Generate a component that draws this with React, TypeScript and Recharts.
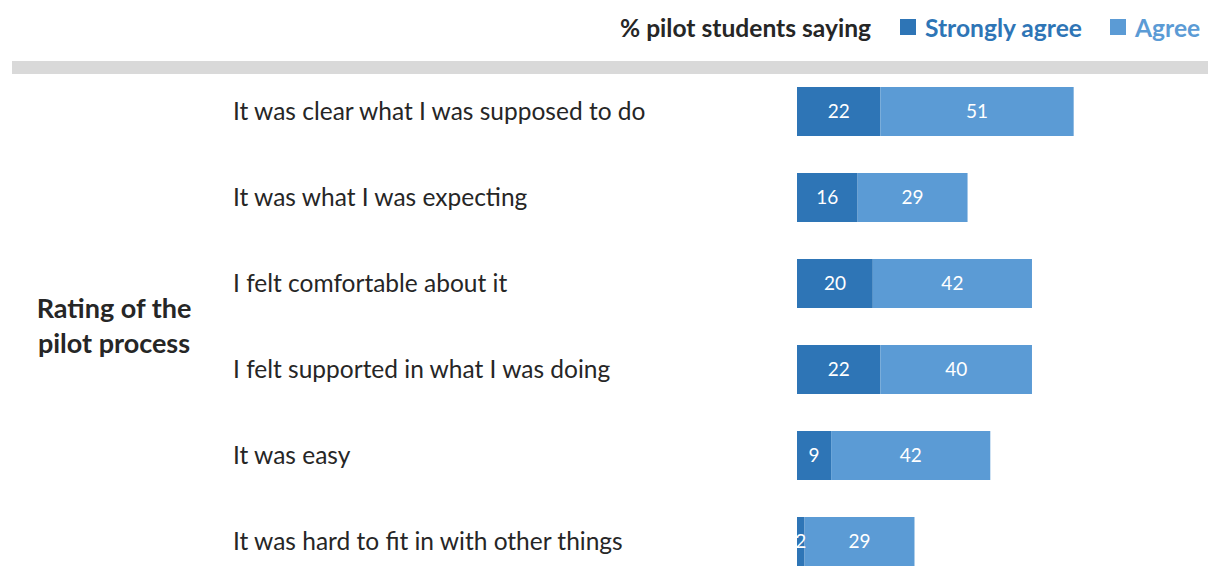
import React from "react";
import { BarChart, Bar, XAxis, YAxis, LabelList } from "recharts";

const statements = [
  "It was clear what I was supposed to do",
  "It was what I was expecting",
  "I felt comfortable about it",
  "I felt supported in what I was doing",
  "It was easy",
  "It was hard to fit in with other things",
];
const stronglyAgree = [22, 16, 20, 22, 9, 2];
const agree = [51, 29, 42, 40, 42, 29];

const data = statements.map((s, i) => ({
  statement: s,
  strongly: stronglyAgree[i],
  agree: agree[i],
}));

const DARK = "#2E75B6";
const LIGHT = "#5B9BD5";
const TEXT = "#262626";
const FONT = "Lato, 'Open Sans', sans-serif";

const StatementTick = (props: any) => {
  const { y, payload } = props;
  return (
    <text x={233} y={y} dy="0.36em" textAnchor="start" fill={TEXT} fontSize={24.5} fontFamily={FONT}>
      {payload.value}
    </text>
  );
};

const App = () => {
  return (
    <div style={{ position: "absolute", left: 0, top: 0, width: 1208, height: 576, overflow: "hidden", background: "#fff" }}>
      <svg width={1208} height={100} style={{ position: "absolute", left: 0, top: 0 }}>
        <text x={620} y={37} fill={TEXT} fontSize={24.6} fontWeight="bold" fontFamily={FONT}>
          % pilot students saying
        </text>
        <rect x={900} y={19} width={16} height={16} fill={DARK} />
        <text x={925} y={37} fill={DARK} fontSize={24.6} fontWeight="bold" fontFamily={FONT}>
          Strongly agree
        </text>
        <rect x={1110} y={19} width={16} height={16} fill={LIGHT} />
        <text x={1135} y={37} fill={LIGHT} fontSize={24.6} fontWeight="bold" fontFamily={FONT}>
          Agree
        </text>
        <rect x={12} y={61} width={1196} height={13} fill="#D9D9D9" />
      </svg>
      <div style={{ position: "absolute", left: 0, top: 0 }}>
        <BarChart
          width={1208}
          height={600}
          data={data}
          layout="vertical"
          margin={{ top: 68, right: 32, bottom: 16, left: 0 }}
          barCategoryGap={0}
        >
          <XAxis type="number" domain={[0, 100]} hide />
          <YAxis
            type="category"
            dataKey="statement"
            width={797}
            axisLine={false}
            tickLine={false}
            tick={<StatementTick />}
            interval={0}
          />
          <Bar dataKey="strongly" stackId="a" fill={DARK} barSize={49} isAnimationActive={false}>
            <LabelList dataKey="strongly" position="center" fill="#fff" fontSize={19} fontFamily={FONT} />
          </Bar>
          <Bar dataKey="agree" stackId="a" fill={LIGHT} barSize={49} isAnimationActive={false}>
            <LabelList dataKey="agree" position="center" fill="#fff" fontSize={19} fontFamily={FONT} />
          </Bar>
        </BarChart>
      </div>
      <svg width={230} height={400} style={{ position: "absolute", left: 0, top: 250 }}>
        <text x={114} y={68} textAnchor="middle" fill={TEXT} fontSize={27} fontWeight="bold" fontFamily={FONT}>
          Rating of the
        </text>
        <text x={114} y={103} textAnchor="middle" fill={TEXT} fontSize={27} fontWeight="bold" fontFamily={FONT}>
          pilot process
        </text>
      </svg>
    </div>
  );
};

export default App;
